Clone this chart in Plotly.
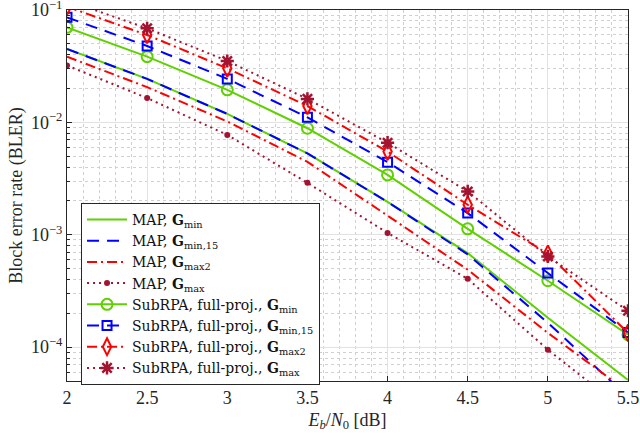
import plotly.graph_objects as go

ebn0 = [2.0, 2.5, 3.0, 3.5, 4.0, 4.5, 5.0, 5.5]

map_gmin = [0.045, 0.0244, 0.0119, 0.0053, 0.00196, 6.87e-4, 1.83e-4, 5.1e-5]
map_gmin15 = [0.045, 0.0244, 0.0119, 0.0053, 0.00196, 6.7e-4, 1.65e-4, 3.6e-5]
map_gmax2 = [0.0385, 0.0206, 0.0102, 0.00446, 0.00148, 4.89e-4, 1.34e-4, 4.0e-5]
map_gmax = [0.0321, 0.0165, 0.00774, 0.0029, 0.00104, 4.06e-4, 9.5e-5, 2.6e-5]

sub_gmin = [0.0702, 0.0385, 0.0195, 0.00888, 0.00341, 0.00113, 3.9e-4, 1.29e-4]
sub_gmin15 = [0.0861, 0.0479, 0.0244, 0.0111, 0.00443, 0.00156, 4.57e-4, 1.35e-4]
sub_gmax2 = [0.107, 0.060, 0.0303, 0.0140, 0.0055, 0.00185, 6.78e-4, 1.34e-4]
sub_gmax = [0.122, 0.0688, 0.0352, 0.0162, 0.0066, 0.00243, 6.41e-4, 2.11e-4]

x_ticks = [2, 2.5, 3, 3.5, 4, 4.5, 5, 5.5]
x_ticktext = ["2", "2.5", "3", "3.5", "4", "4.5", "5", "5.5"]
y_ticks = [1e-4, 1e-3, 1e-2, 1e-1]
y_ticktext = ["10<sup>\u22124</sup>", "10<sup>\u22123</sup>", "10<sup>\u22122</sup>", "10<sup>\u22121</sup>"]

GREEN = "#5fd000"
BLUE = "#0000ff"
RED = "#ff0000"
MAROON = "#a2142f"
FONT = "Liberation Serif"
LEGFONT = "DejaVu Serif"

G = "<b>G</b>"
names = [
    "MAP, " + G + "<sub>min</sub>",
    "MAP, " + G + "<sub>min,15</sub>",
    "MAP, " + G + "<sub>max2</sub>",
    "MAP, " + G + "<sub>max</sub>",
    "SubRPA, full-proj., " + G + "<sub>min</sub>",
    "SubRPA, full-proj., " + G + "<sub>min,15</sub>",
    "SubRPA, full-proj., " + G + "<sub>max2</sub>",
    "SubRPA, full-proj., " + G + "<sub>max</sub>",
]

fig = go.Figure()

fig.add_trace(go.Scatter(x=ebn0, y=map_gmin, name=names[0], mode="lines",
                         line=dict(color=GREEN, width=2, dash="solid")))
fig.add_trace(go.Scatter(x=ebn0, y=map_gmin15, name=names[1], mode="lines",
                         line=dict(color=BLUE, width=2, dash="12px,8px")))
fig.add_trace(go.Scatter(x=ebn0, y=map_gmax2, name=names[2], mode="lines",
                         line=dict(color=RED, width=2, dash="10px,4px,2px,4px")))
fig.add_trace(go.Scatter(x=ebn0, y=map_gmax, name=names[3], mode="lines+markers",
                         line=dict(color=MAROON, width=2, dash="2px,4px"),
                         marker=dict(symbol="circle", size=6, color=MAROON)))

fig.add_trace(go.Scatter(x=ebn0, y=sub_gmin, name=names[4], mode="lines+markers",
                         line=dict(color=GREEN, width=2, dash="solid"),
                         marker=dict(symbol="circle-open", size=11, color=GREEN, line=dict(width=2))))
fig.add_trace(go.Scatter(x=ebn0, y=sub_gmin15, name=names[5], mode="lines+markers",
                         line=dict(color=BLUE, width=2, dash="12px,8px"),
                         marker=dict(symbol="square-open", size=9, color=BLUE, line=dict(width=2))))
fig.add_trace(go.Scatter(x=ebn0, y=sub_gmax2, name=names[6], mode="lines+markers",
                         line=dict(color=RED, width=2, dash="10px,4px,2px,4px"),
                         marker=dict(symbol="diamond-tall-open", size=12, color=RED, line=dict(width=2))))
fig.add_trace(go.Scatter(x=ebn0, y=sub_gmax, name=names[7], mode="lines+markers",
                         line=dict(color=MAROON, width=2, dash="2px,4px"),
                         marker=dict(symbol="asterisk-open", size=11, color=MAROON, line=dict(width=2.5, color=MAROON))))

y_minor = []
for e in range(-5, -1):
    for m in range(2, 10):
        v = m * 10 ** e
        if 5e-5 <= v <= 1e-1:
            y_minor.append(v)

fig.update_layout(
    width=640, height=433,
    margin=dict(l=67, r=12, t=10, b=52, autoexpand=False),
    paper_bgcolor="white", plot_bgcolor="white",
    font=dict(family=FONT, size=18, color="#262626"),
    showlegend=True,
    legend=dict(x=0.025, y=0.48, xanchor="left", yanchor="top",
                bgcolor="white", bordercolor="#262626", borderwidth=1,
                font=dict(family=LEGFONT, size=14, color="#111111"),
                itemwidth=40, tracegroupgap=0),
    xaxis=dict(
        automargin=False, ticklabeloverflow="allow",
        range=[2, 5.5], tickvals=x_ticks, ticktext=x_ticktext,
        showgrid=True, gridcolor="#e2e2e2", gridwidth=1,
        showline=True, linecolor="#262626", linewidth=1, mirror=True,
        ticks="inside", ticklen=5, tickcolor="#262626",
        zeroline=False,
        title=dict(text="<i>E</i><sub><i>b</i></sub>/<i>N</i><sub>0</sub> [dB]", standoff=6,
                   font=dict(family=FONT, size=18)),
        minor=dict(dtick=0.1, showgrid=True, gridcolor="#d0d0d0", griddash="dot",
                   gridwidth=1, ticks="", ticklen=0),
    ),
    yaxis=dict(
        automargin=False, ticklabeloverflow="allow",
        type="log", range=[-4.301, -0.9995],
        tickvals=y_ticks, ticktext=y_ticktext,
        showgrid=True, gridcolor="#e2e2e2", gridwidth=1,
        showline=True, linecolor="#262626", linewidth=1, mirror=True,
        ticks="inside", ticklen=5, tickcolor="#262626",
        zeroline=False,
        title=dict(text="Block error rate (BLER)", standoff=3, font=dict(family=FONT, size=18)),
        minor=dict(tickvals=y_minor, showgrid=True, gridcolor="#d0d0d0", griddash="dot",
                   gridwidth=1, ticks="inside", ticklen=3, tickcolor="#262626"),
    ),
)

fig.write_html("out.html", config={"displayModeBar": False},
               post_script="document.body.style.margin='0';")
